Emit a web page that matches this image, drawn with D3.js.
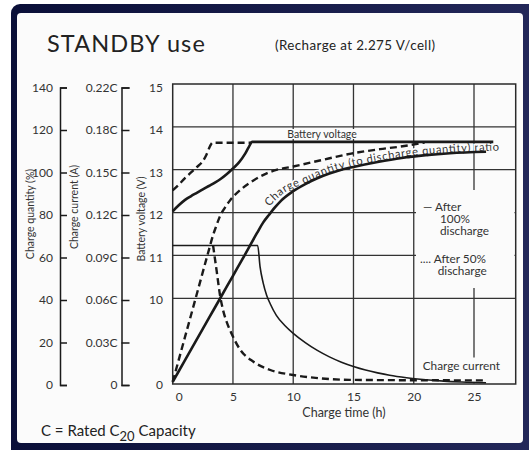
<!DOCTYPE html>
<html><head><meta charset="utf-8">
<script src="https://cdn.jsdelivr.net/npm/d3@7"></script>
<style>
html,body{margin:0;padding:0;background:#fff;}
svg{display:block;font-family:Lato,"Open Sans",sans-serif;}
</style></head><body>
<svg id="chart" width="529" height="450"></svg>
<script>
// ---------- data ----------
const xTicks = [0, 5, 10, 15, 20, 25];
const quantityTicks = [0, 20, 40, 60, 80, 100, 120, 140];
const currentTickLabels = ["0", "0.03C", "0.06C", "0.09C", "0.12C", "0.15C", "0.18C", "0.22C"];
const voltageTicks = [0, 10, 11, 12, 13, 14, 15];
const voltageGrid = [10, 11, 12, 13, 14];

// [hours, volts]
const voltage100 = [[0,12.03],[0.5,12.17],[1,12.29],[1.5,12.38],[2,12.46],[2.5,12.54],[3,12.62],[3.5,12.7],[4,12.79],[4.5,12.9],[5,13.03],[5.5,13.17],[6,13.37],[6.3,13.52],[6.6,13.65],[26.6,13.65]];
const voltage50 = [[0,12.52],[0.5,12.65],[1,12.8],[1.5,12.93],[2,13.06],[2.5,13.2],[2.8,13.35],[3.1,13.55],[3.3,13.63],[6.5,13.63]];
// [hours, % charge quantity]
const quantity100 = [[0,1],[1,10.9],[2,20.8],[3,30.7],[4,40.6],[5,50.5],[6,60.4],[7,70.5],[7.5,75.3],[8,79],[8.5,82.5],[9,85.6],[10,90],[11,93.3],[12,96],[13,98.2],[14,100],[15,101.3],[17,103.6],[19,105.5],[21,106.8],[23,107.7],[26,108.4]];
const quantity50 = [[0,1],[1,21.5],[2,42],[3,62.5],[3.35,69.5],[3.6,73.5],[3.9,78],[4.3,82],[4.8,86],[5.6,90.5],[6.7,95],[7.8,98.3],[8.6,99.9],[10,101.5],[12.2,104.3],[14.8,107.5],[17.2,109.6],[18.9,110.8],[20.9,112.7]];
// [hours, charge current in C]
const current100 = [[0,0.097],[7.05,0.097],[7.25,0.082],[7.5,0.071],[7.8,0.062],[8.1,0.056],[8.6,0.048],[9.3,0.041],[10,0.0355],[11,0.029],[12,0.0235],[13,0.019],[14,0.0153],[15,0.0123],[16,0.0098],[17,0.0078],[18,0.0061],[19.4,0.0044],[21,0.003],[22.5,0.002],[24,0.0014],[26,0.0009]];
const current50 = [[3.35,0.097],[3.65,0.079],[3.93,0.062],[4.2,0.051],[4.5,0.043],[4.9,0.035],[5.6,0.024],[6.7,0.0156],[8.1,0.0098],[10,0.0063],[12.2,0.004],[14.7,0.0029],[18,0.0027],[22,0.0026],[26,0.0025]];

// ---------- layout ----------
const svg = d3.select("#chart");
const panel = "#fbfbfb";
const ink = "#1a1a1a";

const defs = svg.append("defs");
const grad = defs.append("linearGradient").attr("id", "frameGrad").attr("x1", "0").attr("x2", "1").attr("y1", "0").attr("y2", "0");
grad.append("stop").attr("offset", "0%").attr("stop-color", "#0a0f38");
grad.append("stop").attr("offset", "100%").attr("stop-color", "#23285a");

svg.append("rect").attr("x", 11).attr("y", 4).attr("width", 530).attr("height", 460).attr("rx", 9).attr("fill", "url(#frameGrad)");
svg.append("rect").attr("x", 17).attr("y", 13).attr("width", 506).attr("height", 430).attr("rx", 4).attr("fill", panel);

// scales
const x = d3.scaleLinear().domain([0, 28.46]).range([172.7, 515.7]);
const yQ = d3.scaleLinear().domain([0, 140]).range([384, 84]);
const yV = d3.scaleLinear().domain([0, 10, 15]).range([yQ(0), yQ(40), yQ(140)]);
const yC = d3.scaleLinear().domain([0, 0.18, 0.22]).range([yQ(0), yQ(120), yQ(140)]);
// left (label) axes
const yL = d3.scaleLinear().domain([0, 140]).range([385, 87.5]);
const yLV = d3.scaleLinear().domain([0, 10, 15]).range([yL(0), yL(40), yL(140)]);
const yLC = d3.scalePoint().domain(currentTickLabels).range([385, 87.5]);

// titles
svg.append("text").attr("x", 47).attr("y", 51.7).attr("font-size", 23.5).attr("letter-spacing", 1.1).attr("fill", "#222").text("STANDBY use");
svg.append("text").attr("x", 275).attr("y", 49.5).attr("font-size", 13.4).attr("letter-spacing", 0.4).attr("fill", "#222").text("(Recharge at 2.275 V/cell)");

// grid
const grid = svg.append("g").attr("stroke", "#333").attr("stroke-width", 1.3).attr("fill", "none");
grid.selectAll("line.v").data(xTicks.filter(d => d > 0)).join("line")
  .attr("x1", d => x(d)).attr("x2", d => x(d)).attr("y1", yQ(140)).attr("y2", yQ(0));
grid.selectAll("line.h").data(voltageGrid).join("line")
  .attr("x1", x(0)).attr("x2", x.range()[1]).attr("y1", d => yV(d)).attr("y2", d => yV(d));

// masks over the grid behind labels
svg.append("rect").attr("x", 416).attr("y", 190).attr("width", 98.5).attr("height", 98).attr("fill", panel);
svg.append("rect").attr("x", 419).attr("y", 357.5).attr("width", 95).attr("height", 26).attr("fill", panel);

// plot border
svg.append("rect").attr("x", x(0)).attr("y", yQ(140)).attr("width", x.range()[1] - x(0)).attr("height", yQ(0) - yQ(140))
  .attr("fill", "none").attr("stroke", "#2a2a2a").attr("stroke-width", 1.5);

// left axes
function styleAxis(g) {
  g.selectAll("path,line").attr("stroke", ink).attr("stroke-width", 1.5);
  g.selectAll("text").attr("font-size", 12).attr("fill", "#333").attr("font-family", "Lato, sans-serif");
}
svg.append("g").attr("transform", "translate(60,0)")
  .call(d3.axisLeft(yL).tickValues(quantityTicks).tickSizeInner(-7).tickSizeOuter(-7).tickPadding(7))
  .call(styleAxis);
svg.append("g").attr("transform", "translate(121.5,0)")
  .call(d3.axisLeft(yLC).tickSizeInner(-8).tickSizeOuter(-8).tickPadding(4))
  .call(styleAxis);
svg.append("g").attr("transform", "translate(166,0)")
  .call(d3.axisLeft(yLV).tickValues(voltageTicks).tickFormat(d3.format("d")).tickSize(0).tickPadding(3))
  .call(styleAxis).call(g => g.select(".domain").remove());

// axis titles (rotated)
const rot = [["Charge quantity (%)", 30, 214], ["Charge current (A)", 74.5, 207], ["Battery voltage (V)", 141.5, 219]];
svg.selectAll("text.rt").data(rot).join("text").attr("class", "rt")
  .attr("transform", d => `translate(${d[1]},${d[2]}) rotate(-90)`)
  .attr("text-anchor", "middle").attr("dy", "0.35em").attr("font-size", 10.5).attr("fill", "#333")
  .text(d => d[0]);

// bottom axis labels
svg.append("g").attr("transform", `translate(0,${yQ(0)})`)
  .call(d3.axisBottom(x).tickValues(xTicks).tickSize(0).tickPadding(8))
  .call(styleAxis).call(g => g.select(".domain").remove())
  .call(g => g.selectAll(".tick text").attr("dx", d => d === 0 ? 6 : 0));
svg.append("text").attr("x", 344).attr("y", 416.5).attr("text-anchor", "middle").attr("font-size", 12.5).attr("fill", "#333").text("Charge time (h)");

// footnote
const fn = svg.append("text").attr("x", 41).attr("y", 436).attr("font-size", 15).attr("fill", "#222");
fn.append("tspan").text("C = Rated C");
fn.append("tspan").attr("font-size", 13).attr("dy", 5).text("20");
fn.append("tspan").attr("dy", -5).text(" Capacity");

// Battery voltage label with background
const bvl = svg.append("text").attr("x", 322).attr("y", 138).attr("text-anchor", "middle")
  .attr("font-size", 10.5).attr("fill", "#333").text("Battery voltage");
const bb = bvl.node().getBBox();
svg.insert("rect", () => bvl.node()).attr("x", bb.x - 2).attr("y", bb.y + 1).attr("width", bb.width + 4).attr("height", bb.height - 2).attr("fill", panel);

// curved label along the 100% charge quantity curve
const lastQ = quantity100[quantity100.length - 1];
const labelPts = quantity100.filter(d => d[0] >= 8).concat([[28.4, lastQ[1] + 0.3]]);
const lift = h => 0.8 + 7 * Math.max(0, (11 - h) / 3);
defs.append("path").attr("id", "qPath")
  .attr("d", d3.line().x(d => x(d[0])).y(d => yQ(d[1]) - lift(d[0])).curve(d3.curveMonotoneX)(labelPts));
svg.append("text").attr("font-size", 11.2).attr("fill", "#333")
  .attr("stroke", panel).attr("stroke-width", 3.5).attr("paint-order", "stroke")
  .append("textPath").attr("href", "#qPath").attr("startOffset", 0)
  .attr("textLength", 242).attr("lengthAdjust", "spacing")
  .text("Charge quantity (to discharge quantity) ratio");

// curves
const mk = ys => d3.line().x(d => x(d[0])).y(d => ys(d[1])).curve(d3.curveMonotoneX);
const curves = svg.append("g").attr("fill", "none").attr("stroke", ink);
curves.append("path").attr("d", mk(yC)(current100)).attr("stroke-width", 1.6);
curves.append("path").attr("d", mk(yC)(current50)).attr("stroke-width", 2.4).attr("stroke-dasharray", "7,4");
curves.append("path").attr("d", mk(yQ)(quantity50)).attr("stroke-width", 2.4).attr("stroke-dasharray", "7,4");
curves.append("path").attr("d", mk(yV)(voltage50)).attr("stroke-width", 2.4).attr("stroke-dasharray", "7,4");
curves.append("path").attr("d", mk(yQ)(quantity100)).attr("stroke-width", 2.6);
curves.append("path").attr("d", mk(yV)(voltage100)).attr("stroke-width", 2.6);

// legend
const lg = svg.append("g").attr("font-size", 11.8).attr("fill", "#333");
const t1 = lg.append("text").attr("x", 423).attr("y", 210.5);
t1.append("tspan").text("— After");
t1.append("tspan").attr("x", 440).attr("dy", 12).text("100%");
t1.append("tspan").attr("x", 440).attr("dy", 12).text("discharge");
const t2 = lg.append("text").attr("x", 420).attr("y", 263);
t2.append("tspan").text(".... After 50%");
t2.append("tspan").attr("x", 437.7).attr("dy", 12.4).text("discharge");
lg.append("text").attr("x", 422.7).attr("y", 370).text("Charge current");
</script>
</body></html>
